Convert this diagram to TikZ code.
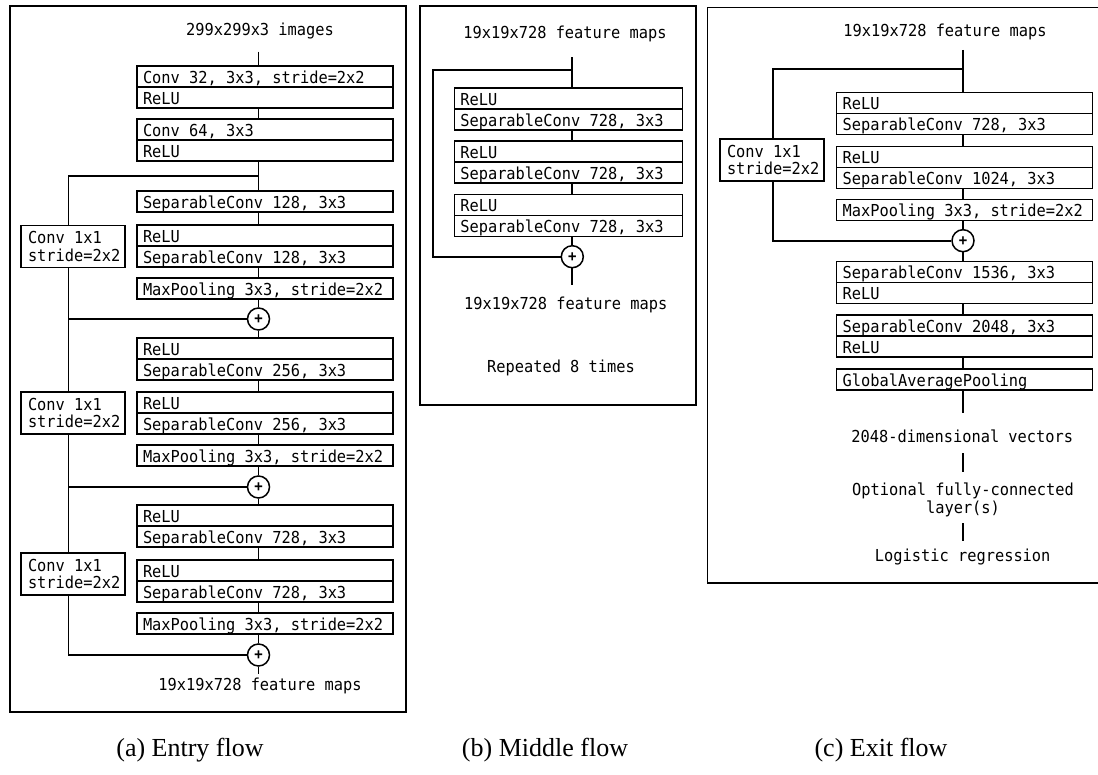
\documentclass[tikz,border=0pt]{standalone}
\usepackage{fontspec}
\newfontfamily\codefont[FakeStretch=0.93]{DejaVu Sans Mono}
\newfontfamily\capfont{Liberation Serif}
\newcommand\layerfont{\codefont\fontsize{16.5}{17.5}\selectfont}
\usetikzlibrary{positioning}
\tikzset{
  panel/.style={draw,line width=1.6pt},
  box/.style={draw,line width=1.5pt,anchor=north west,outer sep=0pt,align=flush left,font=\layerfont},
  layer/.style={box,inner xsep=6pt,inner ysep=0pt,text height=17pt,text depth=4pt},
  wide/.style={layer,text width=244pt},
  narrow/.style={layer,text width=216pt},
  shortcut/.style={box,inner xsep=7pt,inner ysep=0pt,text width=90pt,minimum height=42pt},
  label/.style={font=\layerfont,inner sep=0pt,align=center},
  addop/.style={draw,circle,line width=1.5pt,minimum size=22pt,inner sep=0pt,font=\codefont\bfseries\fontsize{15}{15}\selectfont},
  link/.style={line width=1.7pt},
  caption/.style={font=\capfont\fontsize{26}{30}\selectfont,inner sep=0pt}
}

\begin{document}
\begin{tikzpicture}[x=1pt,y=-1pt]
  \useasboundingbox (0,0) rectangle (1098,774);
  \clip (0,0) rectangle (1098,774);
  % the three panels
  \draw[panel] (10,6) rectangle (405.7,711.7);
  \draw[panel] (420,6) rectangle (695.7,404.7);
  \draw[panel] (707.3,7.3) rectangle (1106,582.7);

  % (a) entry flow
  \coordinate (ex) at (258.5,0);
  \coordinate (es) at (68.5,176);
  \node[label] (ein) at (260,31) {299x299x3 images};
  \node[wide] (e1a) at (137,66) {Conv 32, 3x3, stride=2x2};
  \node[wide,below=0pt of e1a] (e1b) {ReLU};
  \node[wide] (e2a) at (137,119) {Conv 64, 3x3};
  \node[wide,below=0pt of e2a] (e2b) {ReLU};
  \node[wide] (e3) at (137,191) {SeparableConv 128, 3x3};
  \node[wide] (e4a) at (137,225) {ReLU};
  \node[wide,below=0pt of e4a] (e4b) {SeparableConv 128, 3x3};
  \node[wide] (e5) at (137,278) {MaxPooling 3x3, stride=2x2};
  \node[addop] (add1) at (258.5,319) {+};
  \node[wide] (e6a) at (137,338) {ReLU};
  \node[wide,below=0pt of e6a] (e6b) {SeparableConv 256, 3x3};
  \node[wide] (e7a) at (137,392) {ReLU};
  \node[wide,below=0pt of e7a] (e7b) {SeparableConv 256, 3x3};
  \node[wide] (e8) at (137,445) {MaxPooling 3x3, stride=2x2};
  \node[addop] (add2) at (258.5,487) {+};
  \node[wide] (e9a) at (137,505) {ReLU};
  \node[wide,below=0pt of e9a] (e9b) {SeparableConv 728, 3x3};
  \node[wide] (e10a) at (137,560) {ReLU};
  \node[wide,below=0pt of e10a] (e10b) {SeparableConv 728, 3x3};
  \node[wide] (e11) at (137,613) {MaxPooling 3x3, stride=2x2};
  \node[addop] (add3) at (258.5,655) {+};
  \node[label] (eout) at (260,686) {19x19x728 feature maps};
  \node[shortcut] (es1) at (21,225.5) {Conv 1x1\\stride=2x2};
  \node[shortcut] (es2) at (21,392) {Conv 1x1\\stride=2x2};
  \node[shortcut] (es3) at (21,553) {Conv 1x1\\stride=2x2};

  \draw[link,shorten <=12.5pt] (ein.south -| ex) -- (ex |- e1a.north);
  \draw[link] (ex |- e1b.south) -- (ex |- e2a.north);
  \draw[link] (ex |- e2b.south) -- (ex |- e3.north);
  \draw[link] (ex |- e3.south) -- (ex |- e4a.north);
  \draw[link] (ex |- e4b.south) -- (ex |- e5.north);
  \draw[link] (ex |- e5.south) -- (add1);
  \draw[link] (add1) -- (ex |- e6a.north);
  \draw[link] (ex |- e6b.south) -- (ex |- e7a.north);
  \draw[link] (ex |- e7b.south) -- (ex |- e8.north);
  \draw[link] (ex |- e8.south) -- (add2);
  \draw[link] (add2) -- (ex |- e9a.north);
  \draw[link] (ex |- e9b.south) -- (ex |- e10a.north);
  \draw[link] (ex |- e10b.south) -- (ex |- e11.north);
  \draw[link] (ex |- e11.south) -- (add3);
  \draw[link,shorten >=3.5pt] (add3) -- (eout.north -| ex);
  \draw[link] (ex |- es) -- (es) -- (es |- es1.north);
  \draw[link] (es |- es1.south) -- (es |- es2.north);
  \draw[link] (es |- add1) -- (add1);
  \draw[link] (es |- es2.south) -- (es |- es3.north);
  \draw[link] (es |- add2) -- (add2);
  \draw[link] (es |- es3.south) |- (add3);

  % (b) middle flow
  \coordinate (mx) at (572.3,0);
  \coordinate (ms) at (433.3,70);
  \node[label] (min) at (565,34) {19x19x728 feature maps};
  \node[narrow] (m1a) at (454.3,88) {ReLU};
  \node[narrow,below=0pt of m1a] (m1b) {SeparableConv 728, 3x3};
  \node[narrow] (m2a) at (454.3,141) {ReLU};
  \node[narrow,below=0pt of m2a] (m2b) {SeparableConv 728, 3x3};
  \node[narrow] (m3a) at (454.3,194.5) {ReLU};
  \node[narrow,below=0pt of m3a] (m3b) {SeparableConv 728, 3x3};
  \node[addop] (madd) at (572.3,256.7) {+};
  \node[label] (mout) at (565.7,305) {19x19x728 feature maps};
  \node[label] (mrep) at (561,368) {Repeated 8 times};

  \draw[link,shorten <=15pt] (min.south -| mx) -- (mx |- m1a.north);
  \draw[link] (mx |- m1b.south) -- (mx |- m2a.north);
  \draw[link] (mx |- m2b.south) -- (mx |- m3a.north);
  \draw[link] (mx |- m3b.south) -- (madd);
  \draw[link,shorten >=11.8pt] (madd) -- (mout.north -| mx);
  \draw[link] (mx |- ms) -- (ms) |- (madd);

  % (c) exit flow
  \coordinate (xx) at (963,0);
  \coordinate (xs) at (773.3,69);
  \node[label] (xin) at (945,31.7) {19x19x728 feature maps};
  \node[wide] (x1a) at (836.7,92.3) {ReLU};
  \node[wide,below=0pt of x1a] (x1b) {SeparableConv 728, 3x3};
  \node[wide] (x2a) at (836.7,146.7) {ReLU};
  \node[wide,below=0pt of x2a] (x2b) {SeparableConv 1024, 3x3};
  \node[wide] (x3) at (836.7,199.3) {MaxPooling 3x3, stride=2x2};
  \node[addop] (xadd) at (963,240.7) {+};
  \node[wide] (x4a) at (836.7,261.7) {SeparableConv 1536, 3x3};
  \node[wide,below=0pt of x4a] (x4b) {ReLU};
  \node[wide] (x5a) at (836.7,315) {SeparableConv 2048, 3x3};
  \node[wide,below=0pt of x5a] (x5b) {ReLU};
  \node[wide] (x6) at (836.7,369) {GlobalAveragePooling};
  \node[label] (xvec) at (962.3,436) {2048-dimensional vectors};
  \node[label] (xopt) at (963,500) {Optional fully-connected\\layer(s)};
  \node[label] (xlog) at (962.7,556.7) {Logistic regression};
  \node[shortcut] (xs1) at (720,139) {Conv 1x1\\stride=2x2};

  \draw[link,shorten <=10pt] (xin.south -| xx) -- (xx |- x1a.north);
  \draw[link] (xx |- x1b.south) -- (xx |- x2a.north);
  \draw[link] (xx |- x2b.south) -- (xx |- x3.north);
  \draw[link] (xx |- x3.south) -- (xadd);
  \draw[link] (xadd) -- (xx |- x4a.north);
  \draw[link] (xx |- x4b.south) -- (xx |- x5a.north);
  \draw[link] (xx |- x5b.south) -- (xx |- x6.north);
  \draw[link,shorten >=16.5pt] (xx |- x6.south) -- (xvec.north -| xx);
  \draw[link,shorten <=10.4pt,shorten >=11.3pt] (xvec.south -| xx) -- (xopt.north -| xx);
  \draw[link,shorten <=6.3pt,shorten >=7.8pt] (xopt.south -| xx) -- (xlog.north -| xx);
  \draw[link] (xx |- xs) -- (xs) -- (xs |- xs1.north);
  \draw[link] (xs |- xs1.south) |- (xadd);

  % captions
  \node[caption] (capa) at (190,750) {(a) Entry flow};
  \node[caption] (capb) at (545,750) {(b) Middle flow};
  \node[caption] (capc) at (881,750) {(c) Exit flow};
\end{tikzpicture}
\end{document}
